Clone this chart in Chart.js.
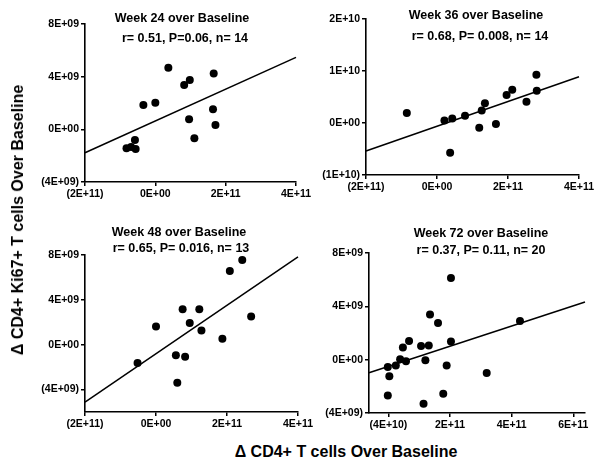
<!DOCTYPE html>
<html><head><meta charset="utf-8">
<script src="https://cdn.jsdelivr.net/npm/chart.js@4"></script>
<style>
html,body{margin:0;padding:0;background:#fff;}
body{width:606px;height:465px;position:relative;overflow:hidden;font-family:"Liberation Sans",Arial,sans-serif;}
canvas{position:absolute;}
.t{position:absolute;transform:translate(-50%,-50%);white-space:pre;font-weight:bold;font-size:12.5px;line-height:1;color:#000;z-index:5;}
.big{position:absolute;white-space:pre;font-weight:bold;font-size:16px;line-height:1;color:#000;z-index:5;}
</style></head><body>
<script>
// ---- Data ----
// Week 24
const w24X = [-8.2e10, -5.6e10, -5.8e10, -6.9e10, -3.4e10, 0.0e10, 3.7e10, 8.2e10, 9.8e10, 9.6e10, 11.1e10, 16.6e10, 16.4e10, 17.1e10];
const w24Y = [-1.44e9, -1.49e9, -0.81e9, -1.34e9, 1.85e9, 2.02e9, 4.68e9, 3.37e9, 3.74e9, 0.76e9, -0.68e9, 4.25e9, 1.52e9, 0.33e9];
const w24FitX = [-2e11, 4e11];
const w24FitY = [-1.78e9, 5.47e9];
// Week 36
const w36X = [-8.5e10, 2.1e10, 4.3e10, 3.7e10, 7.9e10, 11.9e10, 12.6e10, 13.5e10, 16.6e10, 19.6e10, 21.2e10, 25.2e10, 28.0e10, 28.1e10];
const w36Y = [1.9e9, 0.5e9, 0.85e9, -5.7e9, 1.4e9, -0.9e9, 2.4e9, 3.8e9, -0.2e9, 5.4e9, 6.4e9, 4.1e9, 9.3e9, 6.2e9];
const w36FitX = [-2e11, 4e11];
const w36FitY = [-5.4e9, 8.9e9];
// Week 48
const w48X = [-5.2e10, 0.0e10, 5.6e10, 6.0e10, 8.2e10, 7.5e10, 9.5e10, 12.2e10, 12.8e10, 18.7e10, 20.8e10, 24.3e10, 26.8e10];
const w48Y = [-1.63e9, 1.63e9, -0.95e9, -3.4e9, -1.07e9, 3.17e9, 1.93e9, 3.17e9, 1.27e9, 0.53e9, 6.58e9, 7.56e9, 2.52e9];
const w48FitX = [-2e11, 4e11];
const w48FitY = [-5.13e9, 7.83e9];
// Week 72
const w72X = [-0.2e10, 0.3e10, -0.2e10, 2.4e10, 3.8e10, 4.7e10, 5.7e10, 6.7e10, 10.6e10, 12.0e10, 11.4e10, 13.1e10, 13.5e10, 16.1e10, 17.8e10, 18.9e10, 20.3e10, 20.3e10, 31.9e10, 42.7e10];
const w72Y = [-0.55e9, -1.25e9, -2.68e9, -0.43e9, 0.03e9, 0.92e9, -0.12e9, 1.4e9, 1.03e9, -0.05e9, -3.3e9, 1.07e9, 3.38e9, 2.75e9, -2.55e9, -0.43e9, 6.13e9, 1.37e9, -1.0e9, 2.9e9];
const w72FitX = [-6.3e10, 6.38e11];
const w72FitY = [-0.98e9, 4.33e9];

// ---- Tick values and labels ----
const xTicksA = [-2e11, 0, 2e11, 4e11];
const xLabelsA = ["(2E+11)", "0E+00", "2E+11", "4E+11"];
const xTicks72 = [0, 2e11, 4e11, 6e11];
const xLabels72 = ["(4E+10)", "2E+11", "4E+11", "6E+11"];
const yTicks9 = [-4e9, 0, 4e9, 8e9];
const yLabels9 = ["(4E+09)", "0E+00", "4E+09", "8E+09"];
const yTicks36 = [-1e10, 0, 1e10, 2e10];
const yLabels36 = ["(1E+10)", "0E+00", "1E+10", "2E+10"];

// ---- Titles ----
const titles = ["Week 24 over Baseline", "Week 36 over Baseline", "Week 48 over Baseline", "Week 72 over Baseline"];
const stats = ["r= 0.51, P=0.06, n= 14", "r= 0.68, P= 0.008, n= 14", "r= 0.65, P= 0.016, n= 13", "r= 0.37, P= 0.11, n= 20"];
const yTitle = "\u0394 CD4+ Ki67+ T cells Over Baseline";
const xTitle = "\u0394 CD4+ T cells Over Baseline";

// ---- Layout ----
const panels = [
  {xs:w24X, ys:w24Y, fx:w24FitX, fy:w24FitY, xt:xTicksA, xl:xLabelsA, yt:yTicks9, yl:yLabels9, xMin:-2e11, xMax:4e11, yMin:-4e9, yMax:8e9,
   area:{l:85,t:24,r:296,b:182}, title:[182,18], stat:[185,38]},
  {xs:w36X, ys:w36Y, fx:w36FitX, fy:w36FitY, xt:xTicksA, xl:xLabelsA, yt:yTicks36, yl:yLabels36, xMin:-2e11, xMax:4e11, yMin:-1e10, yMax:2e10,
   area:{l:366,t:19,r:579,b:175}, title:[476,15], stat:[480,36]},
  {xs:w48X, ys:w48Y, fx:w48FitX, fy:w48FitY, xt:xTicksA, xl:xLabelsA, yt:yTicks9, yl:yLabels9, xMin:-2e11, xMax:4e11, yMin:-6e9, yMax:8e9,
   area:{l:85,t:255,r:298,b:412}, title:[179,232], stat:[181,248]},
  {xs:w72X, ys:w72Y, fx:w72FitX, fy:w72FitY, xt:xTicks72, xl:xLabels72, yt:yTicks9, yl:yLabels9, xMin:-6.3e10, xMax:6.38e11, yMin:-4e9, yMax:8e9,
   area:{l:369,t:253,r:585,b:413}, title:[481,233], stat:[481,250]}
];

const tickFont = {family:"'Liberation Sans', Arial, sans-serif", size:10.5, weight:'bold'};

function build(p, i){
  const padL=70, padT=20, padR=28, padB=30;
  const a = p.area;
  const cv = document.createElement('canvas');
  const w = a.r - a.l + padL + padR, h = a.b - a.t + padT + padB;
  cv.width = w; cv.height = h;
  cv.style.left = (a.l - padL) + 'px'; cv.style.top = (a.t - padT) + 'px';
  cv.style.width = w + 'px'; cv.style.height = h + 'px';
  document.body.appendChild(cv);

  const grid = {drawOnChartArea:false, drawTicks:true, tickLength:4, color:'#000', lineWidth:1.5};
  const border = {color:'#000', width:1.6};
  new Chart(cv, {
    type:'scatter',
    data:{datasets:[
      {data:p.xs.map((x,k)=>({x:x, y:p.ys[k]})), pointRadius:4, pointBackgroundColor:'#000', pointBorderWidth:0, backgroundColor:'#000', borderWidth:0},
      {data:p.fx.map((x,k)=>({x:x, y:p.fy[k]})), showLine:true, borderColor:'#000', borderWidth:1.5, pointRadius:0, fill:false, clip:false}
    ]},
    options:{
      responsive:false, animation:false, devicePixelRatio:1,
      layout:{padding:{top:padT, right:padR, left:0, bottom:0}},
      plugins:{legend:{display:false}, tooltip:{enabled:false}, title:{display:false}},
      scales:{
        x:{type:'linear', min:p.xMin, max:p.xMax,
           afterBuildTicks:s=>{s.ticks = p.xt.map(v=>({value:v}));},
           afterFit:s=>{s.height = padB;},
           ticks:{callback:(v,k)=>p.xl[k], font:tickFont, color:'#000', maxRotation:0, autoSkip:false, padding:2},
           grid:grid, border:border},
        y:{type:'linear', min:p.yMin, max:p.yMax,
           afterBuildTicks:s=>{s.ticks = p.yt.map(v=>({value:v}));},
           afterFit:s=>{s.width = padL;},
           ticks:{callback:(v,k)=>p.yl[k], font:tickFont, color:'#000', autoSkip:false, padding:2},
           grid:grid, border:border}
      }
    }
  });

  const t1 = document.createElement('div'); t1.className='t'; t1.textContent = titles[i];
  t1.style.left = p.title[0]+'px'; t1.style.top = p.title[1]+'px'; document.body.appendChild(t1);
  const t2 = document.createElement('div'); t2.className='t'; t2.textContent = stats[i];
  t2.style.left = p.stat[0]+'px'; t2.style.top = p.stat[1]+'px'; document.body.appendChild(t2);
}
panels.forEach(build);

const yt = document.createElement('div'); yt.className='big'; yt.textContent = yTitle;
yt.style.left='18px'; yt.style.top='220px'; yt.style.transform='translate(-50%,-50%) rotate(-90deg)';
document.body.appendChild(yt);
const xt = document.createElement('div'); xt.className='big'; xt.textContent = xTitle;
xt.style.left='346px'; xt.style.top='452px'; xt.style.transform='translate(-50%,-50%)';
document.body.appendChild(xt);
</script>
</body></html>
